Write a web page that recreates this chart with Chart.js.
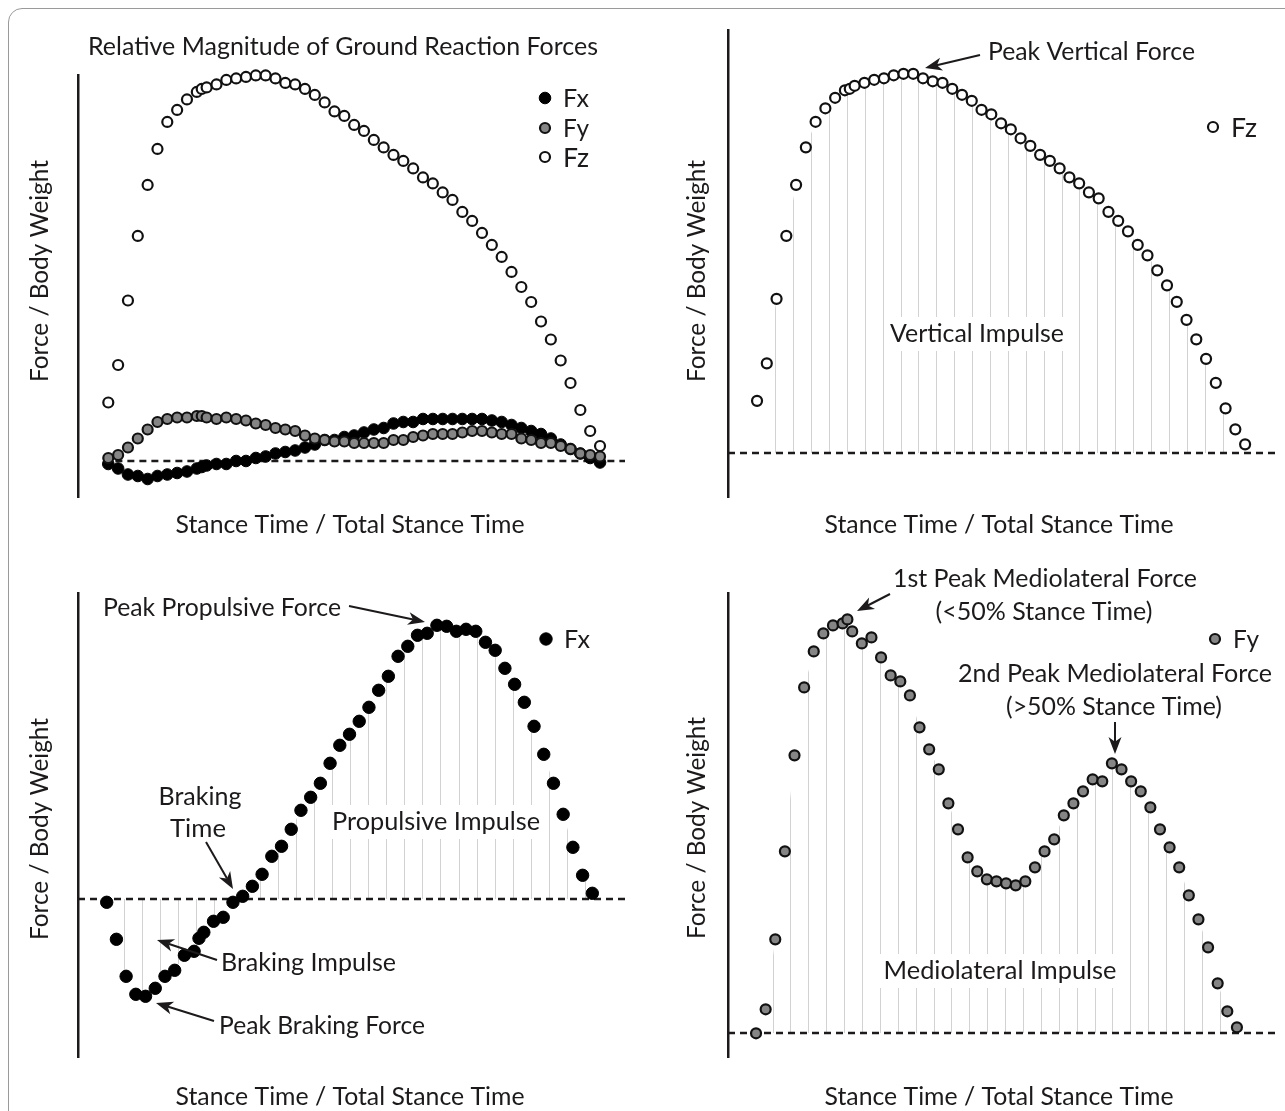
<!DOCTYPE html>
<html>
<head>
<meta charset="utf-8">
<script src="https://cdn.jsdelivr.net/npm/chart.js@4.4.1/dist/chart.umd.min.js"></script>
<style>
html, body { margin: 0; padding: 0; background: #fff; overflow: hidden; }
#page { position: relative; width: 1285px; height: 1111px; overflow: hidden; }
#frame { position: absolute; left: 8px; top: 8px; width: 1300px; height: 1130px;
         border: 1px solid #9a9a9a; border-radius: 14px; box-sizing: border-box; }
canvas { position: absolute; }
</style>
</head>
<body>
<div id="page">
  <div id="frame"></div>
  <canvas id="p1" style="left:0;top:0" width="642" height="560"></canvas>
  <canvas id="p2" style="left:642px;top:0" width="643" height="560"></canvas>
  <canvas id="p3" style="left:0;top:560px" width="642" height="551"></canvas>
  <canvas id="p4" style="left:642px;top:560px" width="643" height="551"></canvas>
</div>
<script>
// % of stance (one extra sample near 19 %)
const stance = [0,2,4,6,8,10,12,14,16,18,19,20,22,24,26,28,30,32,34,36,38,40,42,44,46,48,
  50,52,54,56,58,60,62,64,66,68,70,72,74,76,78,80,82,84,86,88,90,92,94,96,98,100];

// panel 1: all three components (force / body weight)
const fxAll = [-0.02,-0.05,-0.09,-0.10,-0.12,-0.10,-0.09,-0.08,-0.07,-0.05,-0.04,-0.03,-0.02,-0.02,0.00,0.00,
  0.02,0.03,0.05,0.06,0.07,0.09,0.11,0.14,0.14,0.16,0.17,0.19,0.21,0.22,0.25,0.26,0.26,0.28,0.28,0.28,
  0.28,0.28,0.28,0.28,0.27,0.26,0.24,0.22,0.20,0.18,0.15,0.11,0.08,0.05,0.02,-0.01];
const fyAll = [0.02,0.04,0.09,0.15,0.21,0.26,0.28,0.29,0.29,0.30,0.30,0.29,0.28,0.29,0.28,0.27,
  0.25,0.24,0.22,0.21,0.20,0.17,0.15,0.14,0.13,0.13,0.12,0.12,0.12,0.12,0.14,0.14,0.16,0.17,0.18,0.18,
  0.18,0.19,0.20,0.20,0.19,0.18,0.18,0.15,0.14,0.12,0.12,0.10,0.08,0.05,0.04,0.03];
const fzAll = [0.39,0.64,1.07,1.50,1.84,2.08,2.26,2.34,2.41,2.46,2.48,2.49,2.51,2.54,2.55,2.56,
  2.57,2.57,2.55,2.52,2.51,2.48,2.44,2.39,2.33,2.30,2.24,2.20,2.14,2.09,2.04,2.00,1.95,1.89,1.85,1.79,
  1.74,1.66,1.60,1.52,1.44,1.36,1.26,1.16,1.06,0.93,0.81,0.67,0.52,0.34,0.20,0.10];

// panel 2: vertical
const fzVert = [0.35,0.60,1.03,1.45,1.79,2.04,2.21,2.30,2.37,2.42,2.43,2.45,2.47,2.49,2.50,2.52,
  2.53,2.53,2.50,2.48,2.47,2.43,2.39,2.35,2.29,2.26,2.20,2.16,2.10,2.05,1.99,1.95,1.90,1.84,1.80,1.74,
  1.70,1.61,1.55,1.48,1.39,1.32,1.22,1.12,1.01,0.89,0.76,0.63,0.47,0.30,0.16,0.06];

// panel 3: anterior-posterior
const fxAP = [-0.003,-0.040,-0.077,-0.095,-0.097,-0.089,-0.077,-0.071,-0.056,-0.052,-0.039,-0.033,
  -0.022,-0.018,-0.003,0.003,0.013,0.025,0.043,0.053,0.070,0.089,0.102,0.116,0.136,0.154,0.165,0.178,
  0.192,0.209,0.223,0.243,0.253,0.264,0.266,0.274,0.273,0.268,0.270,0.268,0.257,0.249,0.231,0.215,
  0.197,0.173,0.145,0.116,0.085,0.052,0.024,0.006];

// panel 4: mediolateral
const fyML = [0.000,0.012,0.047,0.091,0.139,0.173,0.191,0.200,0.204,0.205,0.207,0.201,0.195,0.198,
  0.188,0.179,0.176,0.169,0.153,0.142,0.132,0.115,0.102,0.088,0.081,0.077,0.076,0.075,0.074,0.076,
  0.083,0.091,0.097,0.109,0.115,0.121,0.127,0.126,0.135,0.132,0.126,0.121,0.113,0.102,0.093,0.083,
  0.069,0.057,0.043,0.025,0.011,0.003];

const FONT = 'Lato, "Open Sans", sans-serif';
const INK = '#1c1a1b';

const styles = {
  Fx: { backgroundColor: '#000', borderColor: '#000', borderWidth: 1 },
  Fy: { backgroundColor: '#858585', borderColor: '#111', borderWidth: 2.2 },
  Fz: { backgroundColor: '#fff', borderColor: '#111', borderWidth: 2.2 }
};

function series(label, values, radius, order) {
  return Object.assign({
    label,
    data: stance.map((x, i) => ({ x, y: values[i] })),
    pointRadius: radius,
    pointHoverRadius: radius,
    clip: false,
    order
  }, styles[label]);
}

function putText(ctx, s, x, y, w, align) {
  ctx.font = '25px ' + FONT;
  const m = ctx.measureText(s).width;
  if (m < w) ctx.font = Math.min(27, 25 * w / m).toFixed(1) + 'px ' + FONT;
  ctx.textAlign = align || 'center';
  ctx.textBaseline = 'middle';
  ctx.fillStyle = INK;
  ctx.fillText(s, x, y, w);
}

function arrow(ctx, x1, y1, x2, y2) {
  const a = Math.atan2(y2 - y1, x2 - x1);
  const L = 17, W = 6.5;
  ctx.strokeStyle = INK;
  ctx.fillStyle = INK;
  ctx.lineWidth = 2;
  ctx.setLineDash([]);
  ctx.beginPath();
  ctx.moveTo(x1, y1);
  ctx.lineTo(x2 - 12 * Math.cos(a), y2 - 12 * Math.sin(a));
  ctx.stroke();
  ctx.save();
  ctx.translate(x2, y2);
  ctx.rotate(a);
  ctx.beginPath();
  ctx.moveTo(0, 0);
  ctx.lineTo(-L, -W);
  ctx.lineTo(-L * 0.72, 0);
  ctx.lineTo(-L, W);
  ctx.closePath();
  ctx.fill();
  ctx.restore();
}

const figurePlugin = {
  id: 'figure',
  beforeDatasetsDraw(chart, args, opts) {
    const { ctx, chartArea } = chart;
    const sx = chart.scales.x, sy = chart.scales.y;
    const y0 = Math.round(sy.getPixelForValue(0));
    const ox = opts.offset[0], oy = opts.offset[1];

    // impulse hatching under the curve
    if (opts.lines && opts.lines.length) {
      const pts = chart.getDatasetMeta(0).data;
      ctx.save();
      ctx.beginPath();
      ctx.moveTo(pts[0].x, y0);
      pts.forEach(p => ctx.lineTo(p.x, p.y));
      ctx.lineTo(pts[pts.length - 1].x, y0);
      ctx.closePath();
      ctx.clip();
      ctx.strokeStyle = '#d2d2d2';
      ctx.lineWidth = 1;
      ctx.beginPath();
      opts.lines.forEach(g => {
        for (let k = 0; k < g.count; k++) {
          const px = Math.round(sx.getPixelForValue(g.start + k * g.step)) + 0.5;
          ctx.moveTo(px, chartArea.top);
          ctx.lineTo(px, chartArea.bottom);
        }
      });
      ctx.stroke();
      ctx.restore();
    }

    // zero line
    ctx.save();
    ctx.strokeStyle = INK;
    ctx.lineWidth = 2.5;
    ctx.setLineDash([7, 5]);
    ctx.beginPath();
    ctx.moveTo(sx.getPixelForValue(opts.zeroFrom), y0);
    ctx.lineTo(chartArea.right, y0);
    ctx.stroke();
    ctx.restore();

    // impulse labels on white
    ctx.save();
    (opts.impulse || []).forEach(t => {
      ctx.fillStyle = '#fff';
      ctx.fillRect(t.x - ox - t.w / 2 - 6, t.y - oy - 17, t.w + 12, 34);
      putText(ctx, t.t, t.x - ox, t.y - oy, t.w);
    });
    ctx.restore();
  },
  afterDraw(chart, args, opts) {
    const { ctx } = chart;
    const ox = opts.offset[0], oy = opts.offset[1];
    ctx.save();
    (opts.texts || []).forEach(t => putText(ctx, t.t, t.x - ox, t.y - oy, t.w, t.align));
    (opts.arrows || []).forEach(a => arrow(ctx, a[0] - ox, a[1] - oy, a[2] - ox, a[3] - oy));

    // legend
    (opts.legend || []).forEach(item => {
      const ds = chart.data.datasets.find(d => d.label === item.label);
      ctx.beginPath();
      ctx.arc(item.x - ox, item.y - oy, ds.pointRadius, 0, Math.PI * 2);
      ctx.fillStyle = ds.backgroundColor;
      ctx.fill();
      ctx.lineWidth = ds.borderWidth;
      ctx.strokeStyle = ds.borderColor;
      ctx.setLineDash([]);
      ctx.stroke();
      putText(ctx, item.label, item.x - ox + 18, item.y - oy + 1, 26, 'left');
    });

    // axis titles
    const yt = opts.yTitle, xt = opts.xTitle;
    ctx.save();
    ctx.translate(yt[0] - ox, yt[1] - oy);
    ctx.rotate(-Math.PI / 2);
    putText(ctx, 'Force / Body Weight', 0, 0, 222);
    ctx.restore();
    putText(ctx, 'Stance Time / Total Stance Time', xt[0] - ox, xt[1] - oy, 349);
    ctx.restore();
  }
};

function makeChart(id, datasets, pad, xr, yr, fig) {
  return new Chart(document.getElementById(id), {
    type: 'scatter',
    data: { datasets },
    options: {
      responsive: false,
      animation: false,
      events: [],
      layout: { padding: pad },
      plugins: {
        legend: { display: false },
        tooltip: { enabled: false },
        figure: fig
      },
      scales: {
        x: { type: 'linear', display: false, min: xr[0], max: xr[1] },
        y: {
          type: 'linear', min: yr[0], max: yr[1],
          ticks: { display: false },
          grid: { display: false, drawTicks: false },
          border: { display: true, color: INK, width: 2.5 }
        }
      }
    },
    plugins: [figurePlugin]
  });
}

// Relative magnitude of ground reaction forces
makeChart('p1',
  [series('Fz', fzAll, 5, 1), series('Fy', fyAll, 5, 2), series('Fx', fxAll, 5.8, 3)],
  { left: 78, right: 17, top: 75, bottom: 63 },
  [-6.16, 105.08], [-0.24, 2.573],
  {
    offset: [0, 0], zeroFrom: -1,
    texts: [{ t: 'Relative Magnitude of Ground Reaction Forces', x: 343, y: 47, w: 510 }],
    legend: [{ label: 'Fx', x: 545, y: 98 }, { label: 'Fy', x: 545, y: 128 }, { label: 'Fz', x: 545, y: 157 }],
    yTitle: [40, 271], xTitle: [350, 525]
  });

// Vertical
makeChart('p2',
  [series('Fz', fzVert, 5, 1)],
  { left: 86, right: 2, top: 30, bottom: 63 },
  [-5.95, 106.7], [-0.291, 2.822],
  {
    offset: [642, 0], zeroFrom: -5.95,
    lines: [{ start: 3.73, step: 3.667, count: 26 }],
    impulse: [{ t: 'Vertical Impulse', x: 977, y: 334, w: 174 }],
    texts: [{ t: 'Peak Vertical Force', x: 988, y: 52, w: 207, align: 'left' }],
    arrows: [[980, 55, 925, 68]],
    legend: [{ label: 'Fz', x: 1213, y: 127 }],
    yTitle: [697, 271], xTitle: [999, 525]
  });

// Anterior-posterior
makeChart('p3',
  [series('Fx', fxAP, 6.2, 1)],
  { left: 78, right: 17, top: 33, bottom: 54 },
  [-5.91, 106.73], [-0.1577, 0.3063],
  {
    offset: [0, 560], zeroFrom: -5.91,
    lines: [{ start: 3.56, step: 3.727, count: 6 }, { start: 27.74, step: 3.727, count: 20 }],
    impulse: [{ t: 'Propulsive Impulse', x: 436, y: 822, w: 208 }],
    texts: [
      { t: 'Peak Propulsive Force', x: 103, y: 608, w: 238, align: 'left' },
      { t: 'Braking', x: 200, y: 797, w: 83 },
      { t: 'Time', x: 198, y: 829, w: 56 },
      { t: 'Braking Impulse', x: 221, y: 963, w: 175, align: 'left' },
      { t: 'Peak Braking Force', x: 219, y: 1026, w: 206, align: 'left' }
    ],
    arrows: [[349, 606, 425, 622], [206, 842, 233, 889], [217, 960, 157, 940], [214, 1021, 156, 1003]],
    legend: [{ label: 'Fx', x: 546, y: 639 }],
    yTitle: [40, 829], xTitle: [350, 1097]
  });

// Mediolateral
makeChart('p4',
  [series('Fy', fyML, 5, 1)],
  { left: 86, right: 2, top: 33, bottom: 54 },
  [-5.83, 108.5], [-0.01185, 0.2202],
  {
    offset: [642, 560], zeroFrom: -5.83,
    lines: [{ start: 3.44, step: 3.72, count: 26 }],
    impulse: [{ t: 'Mediolateral Impulse', x: 1000, y: 971, w: 233 }],
    texts: [
      { t: '1st Peak Mediolateral Force', x: 1045, y: 579, w: 304 },
      { t: '(<50% Stance Time)', x: 1044, y: 612, w: 217 },
      { t: '2nd Peak Mediolateral Force', x: 1115, y: 674, w: 314 },
      { t: '(>50% Stance Time)', x: 1114, y: 707, w: 216 }
    ],
    arrows: [[890, 594, 857, 611], [1115, 722, 1115, 754]],
    legend: [{ label: 'Fy', x: 1215, y: 639 }],
    yTitle: [697, 828], xTitle: [999, 1097]
  });
</script>
</body>
</html>
